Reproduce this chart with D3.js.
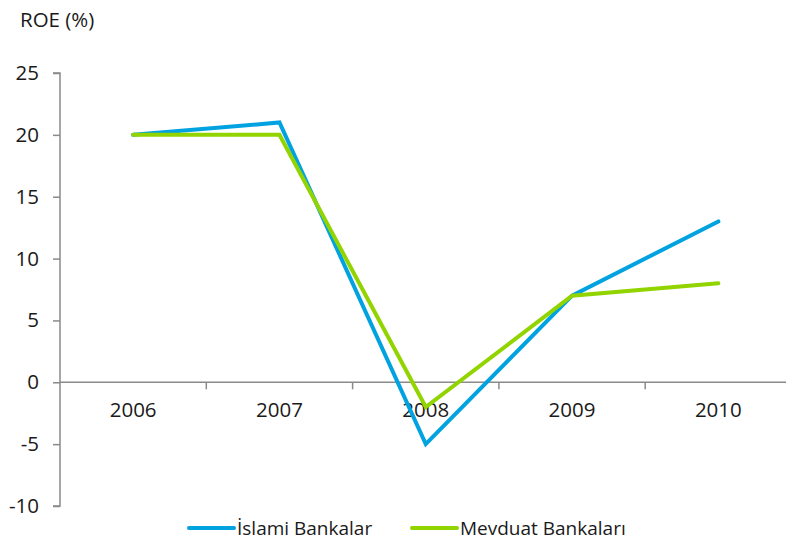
<!DOCTYPE html>
<html>
<head>
<meta charset="utf-8">
<script src="https://cdn.jsdelivr.net/npm/d3@7"></script>
<style>
  html, body { margin: 0; padding: 0; background: #fff; }
  svg { display: block; }
  text { font-family: "Open Sans", "Noto Sans", sans-serif; fill: #1a1a1a; }
</style>
</head>
<body>
<svg id="chart" width="786" height="542"></svg>
<script>
// ROE by year, Islamic vs. deposit banks
const years = ["2006", "2007", "2008", "2009", "2010"];
const islamiValues = [20, 21, -5, 7, 13];
const mevduatValues = [20, 20, -2, 7, 8];
const yTicks = [-10, -5, 0, 5, 10, 15, 20, 25];
const seriesNames = ["İslami Bankalar", "Mevduat Bankaları"];
const seriesColors = ["#00a3e0", "#92d400"];

const svg = d3.select("#chart");
const axisColor = "#8a8a8a";
const fontSize = 20.5;
const legendFontSize = 19;

const x = d3.scaleBand().domain(years).range([60, 791.5]);
const y = d3.scaleLinear().domain([-10, 25]).range([506, 73]);

// Y axis
const yAxis = svg.append("g").attr("transform", "translate(60,0)")
  .call(d3.axisLeft(y).tickValues(yTicks).tickSize(7).tickPadding(14).tickFormat(d => String(d)));
yAxis.select(".domain").attr("stroke", axisColor).attr("stroke-width", 1.5)
  .attr("d", `M-7,${y(25)}H0V${y(-10)}H-7`);
yAxis.selectAll(".tick line").attr("stroke", axisColor).attr("stroke-width", 1.5);
yAxis.selectAll(".tick text").attr("font-size", fontSize).attr("fill", "#1a1a1a")
  .attr("font-family", "\"Open Sans\", \"Noto Sans\", sans-serif");

// X axis along zero, ticks at category boundaries
const xg = svg.append("g").attr("transform", `translate(0,${y(0)})`);
xg.append("line").attr("x1", 60).attr("x2", 786).attr("y1", 0).attr("y2", 0)
  .attr("stroke", axisColor).attr("stroke-width", 1.5);
xg.selectAll("line.tick").data(years.slice(1)).join("line").attr("class", "tick")
  .attr("x1", d => x(d)).attr("x2", d => x(d)).attr("y1", 0).attr("y2", 7)
  .attr("stroke", axisColor).attr("stroke-width", 1.5);
xg.selectAll("text").data(years).join("text")
  .attr("x", d => x(d) + x.bandwidth() / 2).attr("y", 35)
  .attr("text-anchor", "middle").attr("font-size", fontSize).text(d => d);

// Y title
svg.append("text").attr("x", 20).attr("y", 27).attr("font-size", fontSize).text("ROE (%)");

// Series lines
const line = d3.line()
  .x((d, i) => x(years[i]) + x.bandwidth() / 2)
  .y(d => y(d));
[islamiValues, mevduatValues].forEach((vals, k) => {
  svg.append("path").datum(vals).attr("d", line)
    .attr("fill", "none").attr("stroke", seriesColors[k]).attr("stroke-width", 4)
    .attr("stroke-linejoin", "miter").attr("stroke-linecap", "round");
});

// Legend
const legendItems = [{ x: 189 }, { x: 412 }];
legendItems.forEach((it, k) => {
  const g = svg.append("g").attr("transform", `translate(${it.x},528)`);
  g.append("line").attr("x1", 0).attr("x2", 45).attr("stroke", seriesColors[k])
    .attr("stroke-width", 4).attr("stroke-linecap", "round");
  g.append("text").attr("x", 48).attr("y", 7).attr("font-size", legendFontSize).text(seriesNames[k]);
});
</script>
</body>
</html>
